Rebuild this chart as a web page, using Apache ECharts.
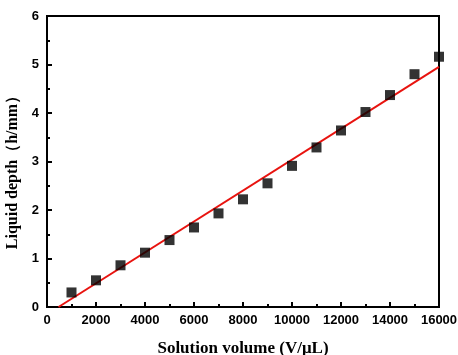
<!DOCTYPE html>
<html>
<head>
<meta charset="utf-8">
<script src="https://cdn.jsdelivr.net/npm/echarts@6/dist/echarts.min.js"></script>
<style>html,body{margin:0;padding:0;background:#fff}#c{width:458px;height:355px}</style>
</head>
<body>
<div id="c"></div>
<script>
const volumes = [1000,2000,3000,4000,5000,6000,7000,8000,9000,10000,11000,12000,13000,14000,15000,16000];
const depths = [0.30,0.55,0.86,1.12,1.38,1.64,1.93,2.22,2.55,2.91,3.29,3.64,4.02,4.37,4.80,5.16];
const fitX = [470, 16000];
const fitY = [0, 4.95];
const xTitle = 'Solution volume (V/\u03bcL)';
const yTitle = 'Liquid depth\uff08h/mm\uff09';

const chart = echarts.init(document.getElementById('c'));
const labelFont = {fontFamily:'Liberation Sans, Arial', fontWeight:'bold', fontSize:13, color:'#000'};
const titleFont = {fontFamily:'Liberation Serif, Times New Roman',fontWeight:'bold',fontSize:17,color:'#000'};
chart.setOption({
  animation:false,
  grid:{left:47,right:19,top:16,bottom:48,containLabel:false,outerBoundsMode:'none',show:true,borderColor:'#000',borderWidth:2},
  xAxis:{type:'value',min:0,max:16000,interval:2000,
    axisLine:{show:true,onZero:false,lineStyle:{color:'#000',width:2}},
    axisTick:{show:true,inside:true,length:5,lineStyle:{color:'#000',width:2}},
    minorTick:{show:true,splitNumber:2,length:3,lineStyle:{color:'#000',width:2}},
    splitLine:{show:false},
    axisLabel:Object.assign({margin:7,formatter:v=>String(v)},labelFont),
    name:xTitle,nameLocation:'middle',nameGap:33,
    nameTextStyle:titleFont
  },
  yAxis:{type:'value',min:0,max:6,interval:1,
    axisLine:{show:true,lineStyle:{color:'#000',width:2}},
    axisTick:{show:true,inside:true,length:5,lineStyle:{color:'#000',width:2}},
    minorTick:{show:true,splitNumber:2,length:3,lineStyle:{color:'#000',width:2}},
    splitLine:{show:false},
    axisLabel:Object.assign({margin:8,formatter:v=>String(v)},labelFont),
    name:yTitle,nameLocation:'middle',nameGap:23,
    nameTextStyle:Object.assign({},titleFont,{fontSize:16,padding:[0,14,0,0]})
  },
  series:[
    {type:'line',data:fitX.map((x,i)=>[x,fitY[i]]),symbol:'none',
      lineStyle:{color:'#e8130f',width:2},z:2},
    {type:'scatter',data:volumes.map((x,i)=>[x,depths[i]]),symbol:'rect',symbolSize:10,
      itemStyle:{color:'#000'},z:3,clip:false}
  ]
});
</script>
</body>
</html>
